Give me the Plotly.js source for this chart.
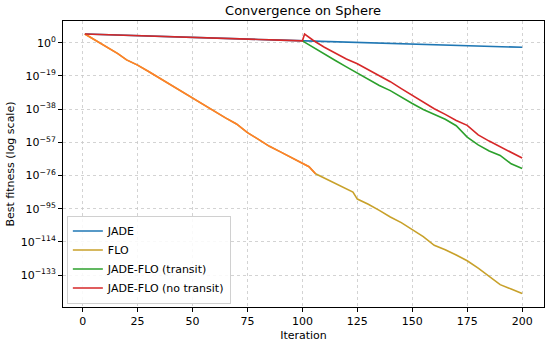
<!DOCTYPE html>
<html>
<head>
<meta charset="utf-8">
<script src="https://cdn.plot.ly/plotly-3.0.1.min.js"></script>
<style>html,body{margin:0;padding:0;background:#fff;}#chart{width:550px;height:346px;}</style>
</head>
<body>
<div id="chart"></div>
<script>
// Values are log10(best fitness).
const jadeIter = [1,10,20,30,40,50,60,70,80,90,100,110,120,130,140,150,160,170,180,190,200];
const jadeLog  = [5.0,4.6,4.2,3.8,3.4,3.0,2.6,2.3,1.9,1.5,1.1,0.7,0.35,0.0,-0.35,-0.7,-1.1,-1.5,-1.85,-2.2,-2.6];

const floIter = [1,5,10,14,16,20,25,30,35,40,45,50,55,60,65,70,75,80,85,90,95,100,103,106,110,115,120,123,125,130,135,140,145,150,155,160,165,170,175,180,185,190,195,200];
const floLog  = [5.0,2.0,-1.5,-4.5,-6.2,-9.8,-12.8,-16.5,-20.3,-24.0,-27.8,-31.8,-35.5,-39.5,-43.0,-46.5,-51.5,-55.3,-59.3,-62.5,-65.8,-68.8,-71.0,-75.0,-77.5,-80.2,-83.5,-85.5,-89.5,-92.5,-96.0,-99.8,-103.0,-106.8,-111.0,-116.0,-118.5,-121.5,-124.8,-129.0,-133.5,-138.5,-141.0,-143.6];
// early part of the lower curve is drawn in orange in the reference
const floEarlyCount = 24; // points up to iteration 106

const transitIter = [100,105,110,115,120,125,130,135,140,145,150,155,160,165,170,175,180,185,190,195,200];
const transitLog  = [1.1,-2.8,-6.5,-10.2,-13.8,-17.5,-21.0,-24.5,-27.4,-31.2,-34.8,-38.2,-40.8,-43.8,-47.5,-54.0,-58.5,-62.0,-64.5,-69.3,-72.0];

const noTransitIter = [1,10,20,30,40,50,60,70,80,90,100,101,105,110,115,120,125,130,135,140,145,150,155,160,165,170,175,180,185,190,195,200];
const noTransitLog  = [5.0,4.6,4.2,3.8,3.4,3.0,2.6,2.3,1.9,1.5,1.1,5.0,1.3,-2.6,-6.0,-9.3,-12.0,-15.5,-18.8,-22.3,-26.3,-30.2,-33.6,-37.8,-41.0,-44.5,-47.3,-52.8,-56.3,-59.6,-62.8,-66.0];

const xTicks = [0,25,50,75,100,125,150,175,200];
const yTickExp = [0,-19,-38,-57,-76,-95,-114,-133];

const pow10 = a => a.map(v => Math.pow(10, v));
const MINUS = '\u2212';
const yTickVals = yTickExp.map(e => Math.pow(10, e));
const yTickText = yTickExp.map(e => e === 0 ? '10<sup>0</sup>' : '10<sup>' + MINUS + Math.abs(e) + '</sup>');

const data = [
  {x: jadeIter, y: pow10(jadeLog), name: 'JADE', mode: 'lines', line: {color: '#1f77b4', width: 1.6}},
  {x: floIter, y: pow10(floLog), name: 'FLO', mode: 'lines', line: {color: '#c8a12a', width: 1.6}},
  {x: transitIter, y: pow10(transitLog), name: 'JADE-FLO (transit)', mode: 'lines', line: {color: '#2ca02c', width: 1.6}},
  {x: floIter.slice(0, floEarlyCount), y: pow10(floLog.slice(0, floEarlyCount)), showlegend: false, hoverinfo: 'skip', mode: 'lines', line: {color: '#ff7f2a', width: 1.6}},
  {x: noTransitIter, y: pow10(noTransitLog), name: 'JADE-FLO (no transit)', mode: 'lines', line: {color: '#d62728', width: 1.6}}
];

const font = {family: 'DejaVu Sans, sans-serif', color: '#000', size: 11};
const layout = {
  width: 550, height: 346,
  margin: {l: 63, r: 6, t: 21, b: 39},
  paper_bgcolor: '#fff', plot_bgcolor: '#fff',
  font: font,
  title: {text: 'Convergence on Sphere', font: {family: 'DejaVu Sans, sans-serif', size: 13, color: '#000'}, x: 0.551, xanchor: 'center', y: 0.97, yanchor: 'middle'},
  xaxis: {
    range: [-8.95, 209.95], tickvals: xTicks, ticktext: xTicks.map(String),
    showline: true, mirror: true, linecolor: '#000', linewidth: 1,
    ticks: 'outside', ticklen: 4, tickcolor: '#000',
    showgrid: true, gridcolor: '#c8c8c8', griddash: 'dot', gridwidth: 0.8,
    zeroline: false,
    title: {text: 'Iteration', font: font, standoff: 4}
  },
  yaxis: {
    type: 'log', range: [-151.3, 12.45], tickvals: yTickVals, ticktext: yTickText,
    showline: true, mirror: true, linecolor: '#000', linewidth: 1,
    ticks: 'outside', ticklen: 4, tickcolor: '#000',
    showgrid: true, gridcolor: '#c8c8c8', griddash: 'dot', gridwidth: 0.8,
    zeroline: false,
    title: {text: 'Best fitness (log scale)', font: font, standoff: 3}
  },
  legend: {
    x: 0.008, y: 0.012, xanchor: 'left', yanchor: 'bottom',
    bgcolor: 'rgba(255,255,255,0.85)', bordercolor: '#d0d0d0', borderwidth: 1,
    font: font, tracegroupgap: 0, traceorder: 'normal'
  },
  showlegend: true
};

Plotly.newPlot('chart', data, layout, {staticPlot: true, displayModeBar: false});
</script>
</body>
</html>
